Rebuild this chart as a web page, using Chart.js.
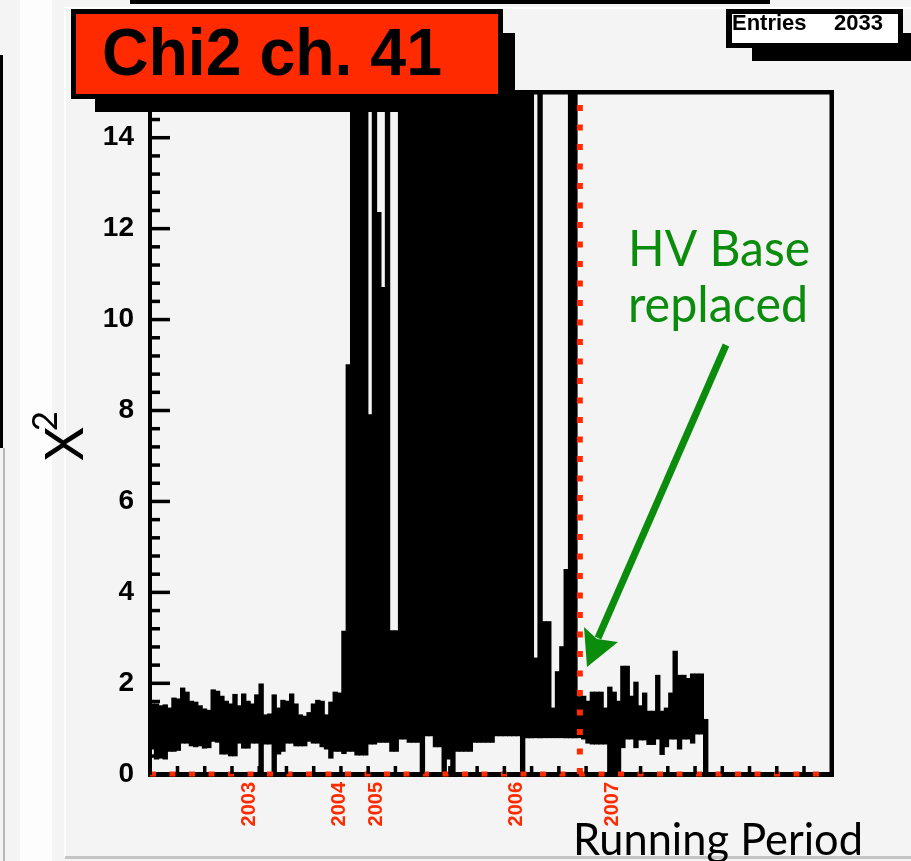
<!DOCTYPE html>
<html lang="en">
<head>
<meta charset="UTF-8">
<title>Chi2 ch. 41</title>
<style>
    html, body { margin: 0; padding: 0; background: #f4f4f4; overflow: hidden; }
    #wrap { width: 911px; height: 861px; }
</style>
</head>
<body>
<div id="wrap"><canvas id="chi2" width="911" height="861"></canvas></div>
<script src="https://cdn.jsdelivr.net/npm/chart.js"></script>
<script>
// 2033 entries, grouped 16 per bin: lowest and highest chi2 in each bin
const binSize = 16;
const nEntries = 2033;
// 30 = goes off the top of the frame
const chi2High = [
    1.54, 1.54, 1.50, 1.52, 1.45, 1.67, 1.65, 1.89, 1.80, 1.60,
    1.58, 1.50, 1.43, 1.40, 1.85, 1.82, 1.71, 1.60, 1.54, 1.75,
    1.50, 1.76, 1.60, 1.54, 1.74, 1.98, 1.30, 1.32, 1.74, 1.45,
    1.62, 1.60, 1.76, 1.54, 1.30, 1.27, 1.35, 1.54, 1.62, 1.60,
    1.30, 1.58, 1.80, 1.78, 3.14, 9.00, 30, 30, 30, 30,
    7.90, 30, 12.35, 10.70, 30, 3.15, 3.15, 30, 30, 30,
    30, 30, 30, 30, 30, 30, 30, 30, 30, 30,
    30, 30, 30, 30, 30, 30, 30, 30, 30, 30,
    30, 30, 30, 30, 30, 30, 30, 30, 2.55, 30,
    3.35, 3.35, 1.45, 2.25, 2.80, 4.50, 30, 30, 1.70, 1.71,
    1.60, 1.80, 1.80, 1.80, 1.45, 1.91, 1.80, 1.60, 2.37, 2.37,
    1.71, 2.02, 1.50, 1.78, 1.38, 1.38, 2.17, 1.38, 1.45, 1.78,
    2.70, 2.17, 2.17, 2.10, 2.20, 2.20, 2.20, 1.20
];
const chi2Low = [
    0.55, 0.33, 0.35, 0.33, 0.50, 0.50, 0.52, 0.68, 0.68, 0.62,
    0.60, 0.62, 0.57, 0.58, 0.72, 0.70, 0.44, 0.44, 0.40, 0.40,
    0.68, 0.57, 0.57, 0.68, 0.68, 0.00, 0.66, 0.66, 0.00, 0.44,
    0.50, 0.68, 0.68, 0.62, 0.62, 0.62, 0.72, 0.68, 0.68, 0.60,
    0.55, 0.35, 0.50, 0.50, 0.45, 0.50, 0.50, 0.42, 0.42, 0.42,
    0.66, 0.66, 0.70, 0.70, 0.70, 0.50, 0.50, 0.77, 0.77, 0.70,
    0.70, 0.70, 0.00, 0.84, 0.84, 0.60, 0.60, 0.00, 0.33, 0.00,
    0.50, 0.50, 0.50, 0.50, 0.70, 0.70, 0.70, 0.70, 0.70, 0.84,
    0.84, 0.84, 0.84, 0.84, 0.84, 0.00, 0.80, 0.80, 0.80, 0.80,
    0.80, 0.80, 0.80, 0.80, 0.80, 0.80, 0.80, 0.80, 0.80, 0.77,
    0.68, 0.66, 0.66, 0.66, 0.66, 0.00, 0.00, 0.00, 0.58, 0.77,
    0.77, 0.58, 0.75, 0.75, 0.65, 0.65, 0.77, 0.43, 0.60, 0.77,
    0.77, 0.55, 0.77, 0.77, 0.68, 0.88, 0.88, 0.00
];
const yearLabels = ['2003', '2004', '2005', '2006', '2007'];
const yearEntry = [367, 694, 830, 1347, 1696];
const hvBaseEntry = 1578;
const xMax = 2500;
const yMax = 15;

const red = '#ff2a00';
const green = '#0c8c0c';
const helv = "'Liberation Sans', Arial, sans-serif";
const gill = "Lato, 'Open Sans', sans-serif";

const runData = chi2High.map((h, i) => ({ x: (i + 0.5) * binSize, y: [chi2Low[i], h] }));

// draws text squeezed/stretched to a given width
function fitText(ctx, text, x, y, w, font, align) {
    ctx.save();
    ctx.font = font;
    const m = ctx.measureText(text).width;
    ctx.translate(x, y);
    ctx.scale(w / m, 1);
    ctx.textAlign = align || 'left';
    ctx.fillText(text, 0, 0);
    ctx.restore();
}

const rootPad = {
    id: 'rootPad',
    beforeDraw(chart) {
        const ctx = chart.ctx;
        ctx.save();
        ctx.fillStyle = '#f4f4f4';
        ctx.fillRect(0, 0, 911, 861);
        ctx.fillStyle = '#fdfdfd';
        ctx.fillRect(20, 0, 32, 861);
        ctx.fillStyle = '#000';
        ctx.fillRect(0, 55, 3, 393);
        ctx.fillStyle = '#b8b8b8';
        ctx.fillRect(3, 448, 2, 413);
        ctx.fillStyle = '#000';
        ctx.fillRect(130, 0, 640, 4);
        ctx.fillStyle = '#ffffff';
        ctx.fillRect(65, 7, 846, 2);
        ctx.fillRect(64, 7, 2, 850);
        ctx.fillStyle = '#c4c4c4';
        ctx.fillRect(65, 856, 846, 3);
        ctx.restore();
    },
    afterDraw(chart) {
        const ctx = chart.ctx;
        const a = chart.chartArea;
        const xs = chart.scales.x, ys = chart.scales.y;
        ctx.save();

        // frame
        ctx.fillStyle = '#000';
        ctx.fillRect(a.left, a.top - 2, a.right - a.left + 3, 4.5);
        ctx.fillRect(a.right - 1.5, a.top - 2, 4.5, a.bottom - a.top + 5);

        // inside ticks
        for (let v = 0.4; v < yMax; v += 0.4) {
            const major = Math.abs(v / 2 - Math.round(v / 2)) < 1e-6;
            const py = ys.getPixelForValue(v);
            ctx.fillRect(a.left, py - 1.5, major ? 20 : 10, 3.5);
        }
        for (let e = 100; e < xMax; e += 100) {
            const px = xs.getPixelForValue(e);
            ctx.fillRect(px - 1.5, a.bottom - 8, 3.5, 8);
        }

        // title box with shadow
        ctx.fillStyle = '#000';
        ctx.fillRect(95, 33, 420, 79);
        ctx.fillRect(71, 9, 432, 90);
        ctx.fillStyle = red;
        ctx.fillRect(76, 14, 422, 80);
        ctx.fillStyle = '#000';
        fitText(ctx, 'Chi2 ch. 41', 102, 75, 340, 'bold 66px ' + helv);

        // stats box
        ctx.fillStyle = '#000';
        ctx.fillRect(752, 33, 159, 28);
        ctx.fillRect(726, 9, 177, 39);
        ctx.fillStyle = '#ffffff';
        ctx.fillRect(732, 14, 166, 29);
        ctx.fillStyle = '#000';
        ctx.font = 'bold 22px ' + helv;
        ctx.textAlign = 'left';
        ctx.fillText('Entries', 732, 30);
        ctx.textAlign = 'right';
        ctx.fillText(String(nEntries), 883, 30);

        // y title
        ctx.save();
        ctx.translate(83, 444);
        ctx.rotate(-Math.PI / 2);
        ctx.textAlign = 'center';
        ctx.font = '52px ' + gill;
        ctx.fillText('X', 0, 0);
        ctx.font = '35px ' + gill;
        ctx.fillText('2', 23, -26);
        ctx.restore();

        // x title
        ctx.fillStyle = '#000';
        fitText(ctx, 'Running Period', 573, 855, 290, '44px ' + gill);

        // annotation
        ctx.fillStyle = green;
        fitText(ctx, 'HV Base', 628, 266, 182, '50px ' + gill);
        fitText(ctx, 'replaced', 628, 322, 180, '50px ' + gill);
        ctx.strokeStyle = green;
        ctx.lineWidth = 7;
        ctx.beginPath();
        ctx.moveTo(726, 345);
        ctx.lineTo(598, 638);
        ctx.stroke();
        ctx.beginPath();
        ctx.moveTo(587, 667);
        ctx.lineTo(584, 627);
        ctx.lineTo(597, 639);
        ctx.lineTo(618, 642);
        ctx.closePath();
        ctx.fill();

        ctx.restore();
    }
};

new Chart(document.getElementById('chi2'), {
    type: 'bar',
    data: {
        datasets: [
            {
                type: 'line',
                data: [{ x: hvBaseEntry, y: 0 }, { x: hvBaseEntry, y: yMax }],
                borderColor: red,
                borderWidth: 6,
                borderDash: [6, 13.5],
                borderCapStyle: 'butt',
                pointRadius: 0,
                clip: false,
                order: 0
            },
            {
                type: 'line',
                data: [{ x: 0, y: 0 }, { x: xMax, y: 0 }],
                borderColor: red,
                borderWidth: 5,
                borderDash: [6, 13.5],
                borderCapStyle: 'butt',
                pointRadius: 0,
                clip: false,
                order: 0
            },
            {
                data: runData,
                backgroundColor: '#000',
                borderWidth: 0,
                barPercentage: 1,
                categoryPercentage: 1,
                inflateAmount: 0.5,
                clip: 0,
                order: 1
            }
        ]
    },
    options: {
        responsive: false,
        animation: false,
        events: [],
        layout: { padding: { top: 92, right: 80, left: 0, bottom: 0 } },
        plugins: { legend: { display: false }, tooltip: { enabled: false } },
        scales: {
            x: {
                type: 'linear',
                min: 0,
                max: xMax,
                offset: false,
                afterFit: (s) => { s.height = 87; },
                afterBuildTicks: (s) => { s.ticks = yearEntry.map(v => ({ value: v })); },
                grid: { display: false, drawTicks: false },
                border: { display: true, color: '#000', width: 5 },
                ticks: {
                    autoSkip: false,
                    minRotation: 90,
                    maxRotation: 90,
                    padding: 8,
                    color: red,
                    font: { family: helv, size: 20, weight: 'bold' },
                    callback: (v, i) => yearLabels[i]
                }
            },
            y: {
                min: 0,
                max: yMax,
                afterFit: (s) => { s.width = 150; },
                grid: { display: false, drawTicks: false },
                border: { display: true, color: '#000', width: 4, z: 1 },
                ticks: {
                    stepSize: 2,
                    padding: 16,
                    color: '#000',
                    font: { family: helv, size: 28, weight: 'bold' }
                }
            }
        }
    },
    plugins: [rootPad]
});
</script>
</body>
</html>
